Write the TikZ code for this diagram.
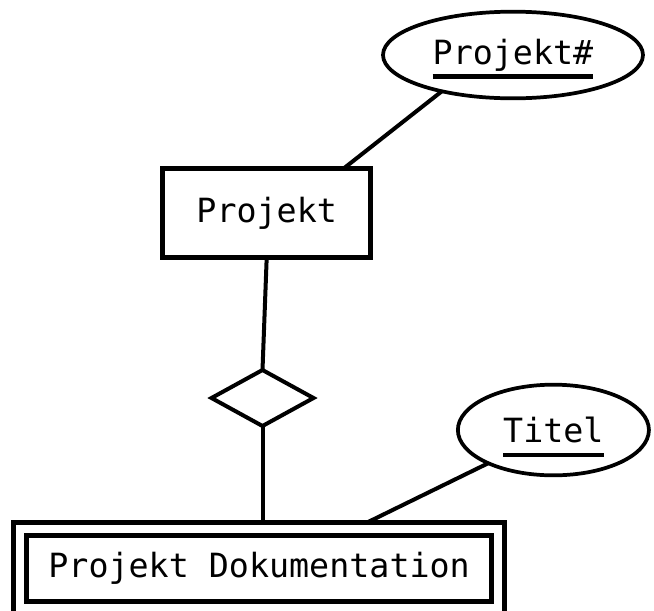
\documentclass[tikz,border=0pt]{standalone}
\usepackage{fontspec}
\setmonofont{DejaVu Sans Mono}
\usetikzlibrary{shapes.geometric,fit}

% key attribute: text with a thick rule under it
\newcommand{\keyattr}[1]{\setbox0\hbox{#1}\rlap{\smash{\vrule height -7.6pt depth 11pt width \wd0}}\box0}

\tikzset{
  er/.style={font=\ttfamily\fontsize{25pt}{30pt}\selectfont, outer sep=0pt, inner sep=0pt, draw=black, fill=white},
  entity/.style={er, rectangle, line width=3.75pt},
  attribute/.style={er, ellipse, line width=2.8pt},
  relation/.style={er, diamond, line width=3pt},
  link/.style={line width=3pt, draw=black}
}

\begin{document}
\begin{tikzpicture}[x=0.75pt, y=-0.75pt]
  \useasboundingbox (0,0) rectangle (654,611);
  \clip (0,0) rectangle (654,611);

  % entities, relationship and attributes
  \node[entity, minimum width=156.4pt, minimum height=67.1pt] (proj) at (266.7,212.8) {Projekt};
  \node[attribute, minimum width=195pt, minimum height=65pt] (pnum) at (513,55) {\keyattr{Projekt\#}};
  \node[relation, minimum width=76.5pt, minimum height=42pt] (rel) at (262.5,398) {};
  \node[attribute, minimum width=143.3pt, minimum height=68pt] (titel) at (553.4,430) {\keyattr{Titel}};

  % weak entity with double border
  \node[entity, minimum width=348.6pt, minimum height=49.1pt] (doc) at (259.1,568.3) {Projekt Dokumentation};
  \node[draw=black, line width=3.75pt, fit=(doc), inner sep=9.9pt, outer sep=0pt] (docout) {};

  % connections
  \draw[link] (pnum.207) -- (proj.30);
  \draw[link] (proj.south) -- (rel.north);
  \draw[link] (rel.south) -- (rel.south |- docout.north);
  \draw[link] (titel.207) -- (docout.23.6);
\end{tikzpicture}
\end{document}
